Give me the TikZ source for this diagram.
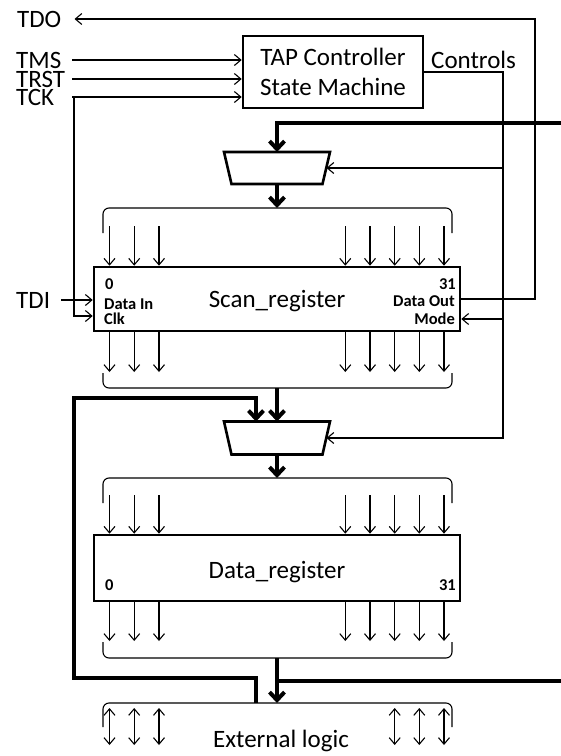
\documentclass[tikz,border=0pt]{standalone}
\usepackage{fontspec}
\setmainfont{Carlito}
\usetikzlibrary{arrows.meta}
\begin{document}
\begin{tikzpicture}[x=1pt,y=-1pt,
  big/.style={font=\fontsize{25}{30}\selectfont, inner sep=0pt},
  small/.style={font=\fontsize{16.5}{17}\selectfont\bfseries, inner sep=0pt},
  boxed/.style={draw, line width=2.6pt, inner sep=0pt},
  muxbox/.style={minimum width=106pt, minimum height=32pt, inner sep=0pt, outer sep=0pt},
  muxline/.style={line width=2.6pt, line join=miter},
  arr/.style={line width=1.1pt, -{Straight Barb[length=6.5pt,width=11pt]}},
  darr/.style={line width=1.1pt, {Straight Barb[length=6.5pt,width=11pt]}-{Straight Barb[length=6.5pt,width=11pt]}},
  bus/.style={line width=4pt, line join=miter},
  busarr/.style={line width=4pt, line join=miter, -{Straight Barb[length=8pt,width=15pt]}},
  brace/.style={line width=1.1pt, rounded corners=6pt}]
\useasboundingbox (0,0) rectangle (561,756);

% ---- text nodes ----
\node[big, anchor=west] (tdo) at (17,19) {TDO};
\node[big, anchor=west] (tms) at (16,60) {TMS};
\node[big, anchor=west] (trst) at (16,79) {TRST};
\node[big, anchor=west] (tck) at (16,97) {TCK};
\node[big, anchor=west] (tdi) at (16,300) {TDI};
\node[big, anchor=west] (ctrl) at (431,60) {Controls};

% ---- boxes ----
\node[boxed, big, align=center, minimum width=180pt, minimum height=72pt] (tap) at (333,72) {TAP Controller\\State Machine};
\node[boxed, minimum width=366pt, minimum height=64pt] (scan) at (277,299) {};
\node[big, anchor=base] (scanlbl) at (277,307) {Scan\_register};
\node[boxed, minimum width=366pt, minimum height=66pt] (data) at (277,568) {};
\node[big, anchor=base] (datalbl) at (277,578) {Data\_register};

\node[small, anchor=west] (s0) at (105,284) {0};
\node[small, anchor=west] (din) at (104,304) {Data In};
\node[small, anchor=west] (clk) at (104,319) {Clk};
\node[small, anchor=east] (s31) at (456,284) {31};
\node[small, anchor=east] (dout) at (455,301) {Data Out};
\node[small, anchor=east] (mode) at (455,319) {Mode};
\node[small, anchor=west] (d0) at (105,585) {0};
\node[small, anchor=east] (d31) at (456,585) {31};

\node[big] (ext) at (281,741) {External logic};

% ---- multiplexers ----
\node[muxbox] (mux1) at (277,168) {};
\draw[muxline] (mux1.north west) -- (mux1.north east) -- ([xshift=-7.5pt]mux1.south east) -- ([xshift=7.5pt]mux1.south west) -- cycle;
\node[muxbox, minimum height=33pt] (mux2) at (277,438) {};
\draw[muxline] (mux2.north west) -- (mux2.north east) -- ([xshift=-7.5pt]mux2.south east) -- ([xshift=7.5pt]mux2.south west) -- cycle;

% ---- braces ----
\draw[brace] (103,233) -- (103,208) -- (452,208) -- (452,233);
\draw[brace] (103,373) -- (103,388) -- (452,388) -- (452,373);
\draw[brace] (103,503) -- (103,478) -- (452,478) -- (452,503);
\draw[brace] (103,642) -- (103,658) -- (452,658) -- (452,642);
\draw[brace] (103,727) -- (103,703) -- (452,703) -- (452,727);
\coordinate (b1) at (277,208);
\coordinate (b2) at (277,388);
\coordinate (b3) at (277,478);
\coordinate (b4) at (277,658);
\coordinate (b5) at (277,703);
\coordinate (b5l) at (256,703);

% ---- bit arrows ----
\foreach \x in {109.5,134.2,159,345.3,370,394.7,419.3,444} {
  \draw[arr] (\x,226) -- (\x,0 |- scan.north);
  \draw[arr] (\x,0 |- scan.south) -- (\x,372);
  \draw[arr] (\x,495) -- (\x,0 |- data.north);
  \draw[arr] (\x,0 |- data.south) -- (\x,641);
}
\foreach \x in {109.5,134.2,159,394.7,419.3,444} {
  \draw[darr] (\x,708) -- (\x,745);
}

% ---- thin control connectors ----
\coordinate (inx) at (72,0);
\coordinate (clkc) at (74,316);
\coordinate (tdor) at (535,19);
\coordinate (cbot) at (503,438);
\draw[arr] (tms -| inx) -- (tms -| tap.west);
\draw[arr] (trst -| inx) -- (trst -| tap.west);
\draw[arr] (tck -| inx) -- (tck -| tap.west);
\draw[arr] (tck -| clkc) -- (clkc) -- (clkc -| scan.west);
\draw[arr] ([xshift=11pt]tdi.east) -- (tdi -| scan.west);
\draw[arr] (scan.east) -| (tdor) -- ([xshift=13pt]tdo.east);
\draw[arr] (tap.east) -| (cbot) -- ([xshift=-3.5pt]mux2.east);
\draw[arr] (cbot |- mux1.east) -- ([xshift=-3.5pt]mux1.east);
\draw[arr] (cbot |- mode) -- (scan.east |- mode);

% ---- buses ----
\coordinate (rin) at (561,123);
\coordinate (rin2) at (561,681);
\coordinate (lb) at (74,678);
\coordinate (lt) at (74,398);
\draw[busarr] (rin) -| (mux1.north);
\draw[busarr] (mux1.south) -- (b1);
\draw[busarr] (b2) -- (mux2.north);
\draw[busarr] (mux2.south) -- (b3);
\draw[busarr] (b5l) |- (lb) -- (lt) -| ([xshift=-21pt]mux2.north);
\draw[busarr] (b4) -- (b5);
\draw[bus] (rin2) -- (b4 |- rin2);
\end{tikzpicture}
\end{document}
